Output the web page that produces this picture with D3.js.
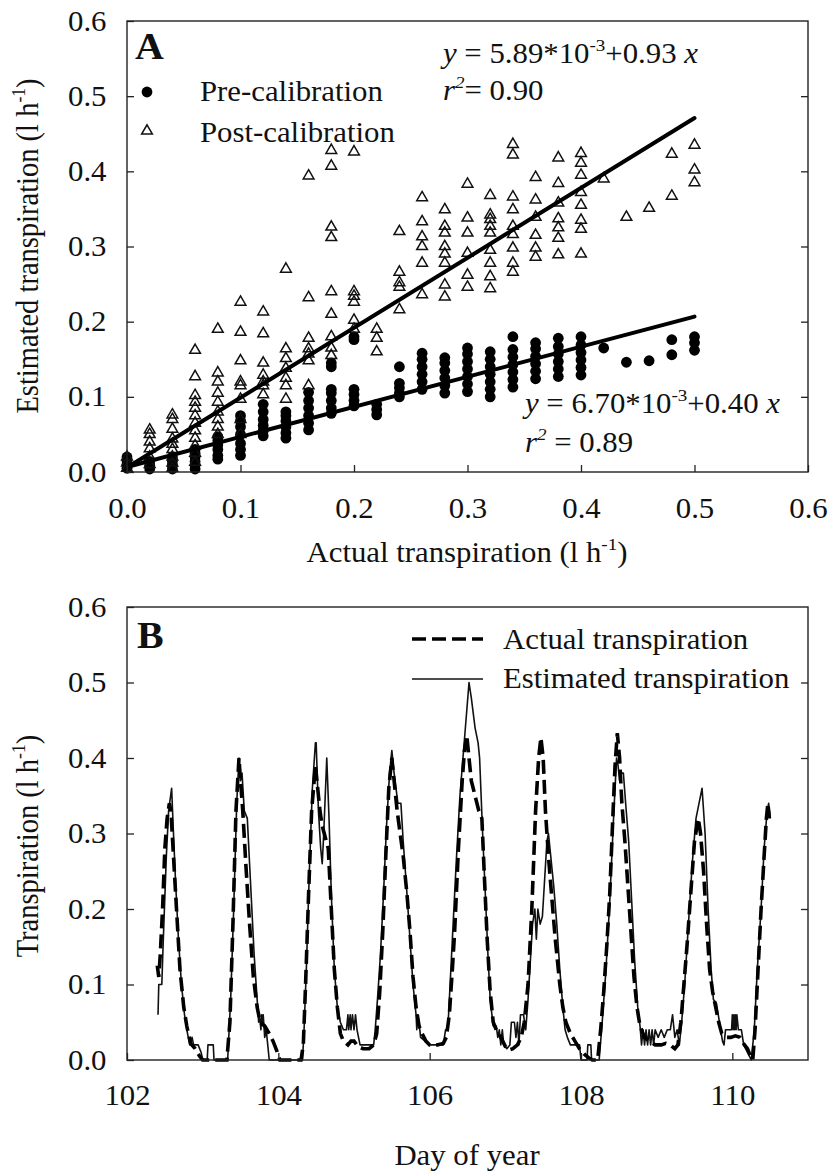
<!DOCTYPE html>
<html>
<head>
<meta charset="utf-8">
<script src="https://cdn.jsdelivr.net/npm/d3@7"></script>
<style>
  body { margin: 0; background: #fff; }
  text { font-family: "Liberation Serif", "Times New Roman", serif; fill: #111; }
</style>
</head>
<body>
<div id="chart"></div>
<script>
// ---- panel A data: x levels (actual transpiration) and estimated values read at each level
const xLevels = [0, 0.02, 0.04, 0.06, 0.08, 0.10, 0.12, 0.14, 0.16, 0.18, 0.20, 0.22, 0.24,
  0.26, 0.28, 0.30, 0.32, 0.34, 0.36, 0.38, 0.40, 0.42, 0.44, 0.46, 0.48, 0.50];

const preY = [
  [0.005, 0.01, 0.015, 0.02],
  [0.004, 0.009, 0.014],
  [0.004, 0.009, 0.014, 0.02],
  [0.004, 0.009, 0.014, 0.02, 0.025, 0.03],
  [0.017, 0.022, 0.03, 0.036, 0.042, 0.047],
  [0.022, 0.03, 0.038, 0.05, 0.06, 0.068, 0.075],
  [0.048, 0.055, 0.062, 0.07, 0.08, 0.09],
  [0.045, 0.052, 0.06, 0.068, 0.075, 0.08],
  [0.056, 0.065, 0.075, 0.085, 0.095, 0.106],
  [0.078, 0.085, 0.095, 0.105, 0.11, 0.14, 0.145],
  [0.088, 0.095, 0.103, 0.11, 0.176, 0.18],
  [0.076, 0.083, 0.09],
  [0.1, 0.105, 0.112, 0.118, 0.14],
  [0.11, 0.12, 0.13, 0.14, 0.15, 0.158],
  [0.105, 0.115, 0.125, 0.135, 0.145, 0.152],
  [0.107, 0.117, 0.127, 0.137, 0.147, 0.157, 0.165],
  [0.1, 0.11, 0.12, 0.13, 0.14, 0.15, 0.16],
  [0.113, 0.123, 0.133, 0.143, 0.153, 0.163, 0.18],
  [0.124, 0.134, 0.144, 0.154, 0.164, 0.172],
  [0.127, 0.137, 0.147, 0.157, 0.167, 0.178],
  [0.129, 0.139, 0.149, 0.159, 0.169, 0.18],
  [0.165],
  [0.146],
  [0.148],
  [0.156, 0.176],
  [0.162, 0.172, 0.18]
];

const postY = [
  [0.005, 0.012, 0.02],
  [0.01, 0.02, 0.031, 0.04, 0.05, 0.056],
  [0.005, 0.012, 0.02, 0.03, 0.037, 0.044, 0.057, 0.07, 0.076],
  [0.013, 0.025, 0.035, 0.045, 0.055, 0.065, 0.075, 0.085, 0.093, 0.102, 0.127, 0.162],
  [0.05, 0.06, 0.07, 0.08, 0.093, 0.105, 0.12, 0.132, 0.19],
  [0.05, 0.07, 0.097, 0.115, 0.12, 0.148, 0.186, 0.226],
  [0.103, 0.115, 0.12, 0.129, 0.145, 0.184, 0.213],
  [0.097, 0.115, 0.125, 0.138, 0.151, 0.164, 0.27],
  [0.115, 0.148, 0.157, 0.164, 0.178, 0.232, 0.394],
  [0.155, 0.165, 0.18, 0.21, 0.24, 0.312, 0.326, 0.407, 0.428],
  [0.19, 0.202, 0.226, 0.234, 0.24, 0.426],
  [0.16, 0.178, 0.19],
  [0.216, 0.246, 0.252, 0.266, 0.32],
  [0.236, 0.278, 0.3, 0.313, 0.333, 0.365],
  [0.233, 0.249, 0.278, 0.29, 0.3, 0.318, 0.327, 0.349],
  [0.246, 0.262, 0.291, 0.318, 0.338, 0.383],
  [0.244, 0.26, 0.278, 0.295, 0.318, 0.327, 0.336, 0.342, 0.368],
  [0.266, 0.278, 0.298, 0.316, 0.327, 0.349, 0.366, 0.422, 0.436],
  [0.286, 0.298, 0.315, 0.339, 0.362, 0.392],
  [0.289, 0.311, 0.325, 0.337, 0.358, 0.384, 0.418],
  [0.29, 0.323, 0.335, 0.355, 0.372, 0.395, 0.411, 0.424],
  [0.39],
  [0.339],
  [0.351],
  [0.367, 0.423],
  [0.385, 0.402, 0.435]
];

// regression fits [intercept, slope]
const preFit = [6.70e-3, 0.40];
const postFit = [5.89e-3, 0.93];

const ticksA = [0, 0.1, 0.2, 0.3, 0.4, 0.5, 0.6];

// ---- panel B data: [day of year, transpiration]
const actualSeries = [
  [102.40,0.125],[102.42,0.11],[102.44,0.14],[102.47,0.20],[102.50,0.28],[102.53,0.32],[102.56,0.34],[102.58,0.33],[102.62,0.26],[102.66,0.19],[102.70,0.12],[102.75,0.07],[102.79,0.045],[102.84,0.022],[102.90,0.015],[102.96,0.005],[103.00,0],[103.32,0],
  [103.36,0.05],[103.40,0.18],[103.44,0.33],[103.48,0.40],[103.50,0.37],[103.53,0.33],[103.57,0.26],[103.62,0.18],[103.67,0.11],[103.72,0.07],[103.76,0.05],[103.82,0.045],[103.88,0.035],[103.93,0.025],[103.98,0.012],[104.02,0],[104.30,0],
  [104.33,0.02],[104.36,0.1],[104.40,0.22],[104.44,0.33],[104.49,0.39],[104.52,0.36],[104.55,0.33],[104.58,0.31],[104.62,0.295],[104.66,0.28],[104.70,0.20],[104.74,0.12],[104.78,0.07],[104.82,0.035],[104.86,0.025],[104.92,0.02],[104.96,0.025],[105.00,0.025],[105.05,0.018],[105.12,0.015],[105.20,0.015],[105.26,0.02],[105.30,0.035],
  [105.34,0.09],[105.38,0.17],[105.42,0.27],[105.46,0.36],[105.50,0.40],[105.53,0.37],[105.57,0.33],[105.61,0.30],[105.65,0.27],[105.70,0.22],[105.74,0.17],[105.78,0.11],[105.82,0.07],[105.86,0.045],[105.90,0.035],[105.95,0.025],[106.00,0.02],[106.10,0.02],[106.18,0.022],[106.22,0.03],
  [106.26,0.06],[106.30,0.12],[106.33,0.17],[106.38,0.28],[106.43,0.37],[106.46,0.41],[106.49,0.43],[106.51,0.41],[106.55,0.37],[106.60,0.35],[106.65,0.33],[106.69,0.32],[106.72,0.25],[106.76,0.16],[106.80,0.09],[106.84,0.05],[106.88,0.04],[106.94,0.03],[107.00,0.018],[107.04,0.013],[107.10,0.015],[107.16,0.02],[107.21,0.03],[107.25,0.05],
  [107.30,0.1],[107.35,0.2],[107.40,0.33],[107.44,0.40],[107.47,0.427],[107.50,0.40],[107.53,0.33],[107.57,0.27],[107.61,0.22],[107.66,0.16],[107.72,0.10],[107.76,0.07],[107.80,0.05],[107.86,0.035],[107.92,0.025],[107.98,0.015],[108.04,0.008],[108.10,0.003],[108.15,0],[108.22,0],
  [108.26,0.04],[108.30,0.09],[108.34,0.15],[108.38,0.22],[108.42,0.32],[108.45,0.39],[108.48,0.433],[108.51,0.40],[108.54,0.34],[108.58,0.29],[108.62,0.23],[108.66,0.17],[108.70,0.11],[108.74,0.07],[108.78,0.045],[108.84,0.03],[108.90,0.025],[108.98,0.02],[109.06,0.02],[109.12,0.022],[109.18,0.02],[109.24,0.015],[109.28,0.02],[109.32,0.05],
  [109.36,0.1],[109.40,0.15],[109.45,0.22],[109.50,0.29],[109.55,0.32],[109.58,0.30],[109.62,0.25],[109.66,0.18],[109.70,0.12],[109.74,0.09],[109.78,0.07],[109.82,0.05],[109.86,0.035],[109.92,0.03],[109.98,0.03],[110.04,0.032],[110.10,0.03],[110.16,0.02],[110.20,0.015],[110.24,0.005],[110.27,0],[110.30,0.04],[110.34,0.12],[110.38,0.20],[110.42,0.27],[110.45,0.32],[110.47,0.34],[110.49,0.32]
];

const estimatedSeries = [
  [102.41,0.06],[102.42,0.10],[102.46,0.10],[102.48,0.16],[102.52,0.27],[102.55,0.33],[102.59,0.36],[102.61,0.31],[102.64,0.24],[102.68,0.16],[102.72,0.10],[102.76,0.06],[102.80,0.035],[102.83,0.02],[102.86,0.03],[102.88,0.02],[102.94,0.02],[102.98,0.01],[103.00,0],[103.06,0],[103.07,0.02],[103.14,0.02],[103.15,0],[103.33,0],
  [103.37,0.08],[103.41,0.2],[103.45,0.34],[103.48,0.40],[103.50,0.37],[103.52,0.38],[103.55,0.33],[103.59,0.32],[103.63,0.24],[103.68,0.14],[103.72,0.08],[103.74,0.05],[103.75,0.06],[103.77,0.04],[103.78,0.06],[103.79,0.05],[103.80,0.06],[103.82,0.03],[103.84,0.04],[103.86,0.02],[103.88,0],[104.32,0],
  [104.34,0.04],[104.37,0.12],[104.41,0.25],[104.45,0.36],[104.49,0.42],[104.50,0.42],[104.53,0.33],[104.56,0.28],[104.58,0.26],[104.60,0.30],[104.64,0.40],[104.67,0.32],[104.70,0.22],[104.74,0.12],[104.78,0.07],[104.82,0.05],[104.86,0.04],[104.90,0.04],[104.92,0.06],[104.93,0.04],[104.95,0.06],[104.96,0.04],[104.98,0.06],[105.00,0.04],[105.02,0.06],[105.04,0.04],[105.06,0.03],[105.08,0.02],[105.26,0.02],[105.28,0.04],[105.31,0.08],
  [105.35,0.14],[105.39,0.22],[105.43,0.31],[105.47,0.38],[105.50,0.41],[105.53,0.38],[105.58,0.34],[105.62,0.34],[105.65,0.29],[105.70,0.22],[105.74,0.16],[105.78,0.10],[105.82,0.06],[105.83,0.04],[105.84,0.06],[105.86,0.05],[105.88,0.03],[105.94,0.025],[106.00,0.02],[106.18,0.02],[106.21,0.04],[106.24,0.04],
  [106.27,0.10],[106.31,0.18],[106.35,0.26],[106.40,0.35],[106.44,0.40],[106.48,0.45],[106.52,0.50],[106.55,0.48],[106.60,0.44],[106.64,0.42],[106.66,0.40],[106.70,0.30],[106.74,0.21],[106.77,0.14],[106.80,0.08],[106.84,0.045],[106.88,0.045],[106.90,0.03],[106.92,0.04],[106.94,0.02],[106.96,0.04],[106.98,0.02],[107.02,0.015],[107.06,0.02],[107.08,0.05],[107.12,0.05],[107.14,0.03],[107.16,0.05],[107.18,0.02],[107.20,0.06],[107.24,0.06],[107.27,0.04],
  [107.30,0.08],[107.33,0.13],[107.36,0.18],[107.39,0.20],[107.41,0.16],[107.43,0.20],[107.46,0.18],[107.49,0.19],[107.52,0.24],[107.55,0.29],[107.57,0.30],[107.60,0.27],[107.64,0.23],[107.68,0.18],[107.72,0.12],[107.76,0.07],[107.79,0.04],[107.82,0.03],[107.86,0.02],[107.98,0.02],[108.00,0],[108.08,0],[108.09,0.02],[108.13,0.02],[108.14,0],[108.24,0],
  [108.28,0.05],[108.33,0.12],[108.38,0.21],[108.43,0.32],[108.47,0.40],[108.49,0.39],[108.51,0.37],[108.53,0.38],[108.56,0.38],[108.59,0.34],[108.63,0.29],[108.67,0.21],[108.71,0.13],[108.75,0.07],[108.78,0.045],[108.80,0.02],[108.82,0.04],[108.84,0.02],[108.86,0.04],[108.88,0.02],[108.90,0.04],[108.92,0.02],[108.94,0.04],[108.96,0.02],[108.98,0.04],[109.02,0.03],[109.06,0.04],[109.10,0.03],[109.14,0.04],[109.18,0.04],[109.21,0.06],[109.24,0.03],[109.27,0.04],[109.30,0.02],[109.33,0.05],
  [109.37,0.1],[109.42,0.18],[109.47,0.26],[109.52,0.32],[109.60,0.36],[109.64,0.30],[109.68,0.20],[109.72,0.12],[109.75,0.08],[109.79,0.075],[109.83,0.05],[109.87,0.025],[109.89,0.02],[109.91,0.04],[109.96,0.04],[109.99,0.04],[110.00,0.06],[110.01,0.04],[110.02,0.06],[110.03,0.04],[110.04,0.06],[110.05,0.04],[110.06,0.06],[110.08,0.04],[110.12,0.04],[110.15,0.02],[110.20,0.01],[110.25,0],[110.29,0.04],[110.33,0.12],[110.38,0.20],[110.42,0.28],[110.46,0.33],[110.48,0.34],[110.50,0.32]
];

const ticksBy = [0, 0.1, 0.2, 0.3, 0.4, 0.5, 0.6];
const ticksBx = [102, 104, 106, 108, 110];

// ---- drawing
const W = 830, H = 1174;
const FS = 28.5;   // base font size
const SX = 1.08;   // the original text is a little wider than plain Times

const svg = d3.select("#chart").append("svg")
  .attr("width", W)
  .attr("height", H)
  .style("background", "#fff");

// text with optional italic / superscript parts
function richText(parent, x, y, size, parts, opts = {}) {
  const t = parent.append("text")
    .attr("font-size", size)
    .attr("text-anchor", opts.anchor || "start")
    .attr("font-weight", opts.bold ? "bold" : null)
    .attr("transform", opts.rotate
      ? `translate(${x},${y}) rotate(-90) scale(1,${SX})`
      : `translate(${x},${y}) scale(${SX},1)`);
  const shift = size * 0.42;
  let raised = false;
  parts.forEach(p => {
    if (typeof p === "string") p = { t: p };
    const s = t.append("tspan").text(p.t);
    if (p.i) s.attr("font-style", "italic");
    if (p.sup) {
      s.attr("font-size", size * 0.62).attr("dy", raised ? 0 : -shift);
      raised = true;
    } else if (raised) {
      s.attr("dy", shift);
      raised = false;
    }
  });
  return t;
}

function frame(g, x, y, xt, yt, fx, fy, padX) {
  const [x0, x1] = x.range();
  const [y0, y1] = y.range();

  const left = g.append("g")
    .attr("transform", `translate(${x0},0)`)
    .call(d3.axisLeft(y).tickValues(yt).tickSizeInner(-7).tickSizeOuter(0).tickPadding(19).tickFormat(fy));
  const bottom = g.append("g")
    .attr("transform", `translate(0,${y0})`)
    .call(d3.axisBottom(x).tickValues(xt).tickSizeInner(-7).tickSizeOuter(0).tickPadding(padX).tickFormat(fx));
  g.append("g")
    .attr("transform", `translate(${x1},0)`)
    .call(d3.axisRight(y).tickValues(yt.slice(1, -1)).tickSizeInner(-7).tickSizeOuter(0).tickFormat(""));

  g.selectAll(".domain").remove();
  g.selectAll(".tick line").attr("stroke", "#222").attr("stroke-width", 1.3);
  [left, bottom].forEach(a => a.selectAll("text")
    .attr("font-family", '"Liberation Serif","Times New Roman",serif')
    .attr("font-size", FS)
    .attr("fill", "#111")
    .attr("transform", `scale(${SX},1)`));

  g.append("rect")
    .attr("x", x0).attr("y", y1)
    .attr("width", x1 - x0).attr("height", y0 - y1)
    .attr("fill", "none")
    .attr("stroke", "#222")
    .attr("stroke-width", 1.4);
}

// ---------- Panel A
const xA = d3.scaleLinear().domain([0, 0.6]).range([127, 808]);
const yA = d3.scaleLinear().domain([0, 0.6]).range([472, 21]);
const gA = svg.append("g");

const prePts = xLevels.flatMap((x, i) => preY[i].map(y => [x, y]));
const postPts = xLevels.flatMap((x, i) => postY[i].map(y => [x, y]));

const tri = d3.symbol().type(d3.symbolTriangle).size(50);

gA.append("g").selectAll("circle")
  .data(prePts)
  .join("circle")
  .attr("cx", d => xA(d[0]))
  .attr("cy", d => yA(d[1]))
  .attr("r", 5.4)
  .attr("fill", "#000");

gA.append("g").selectAll("path")
  .data(postPts)
  .join("path")
  .attr("d", tri)
  .attr("transform", d => `translate(${xA(d[0])},${yA(d[1])})`)
  .attr("fill", "none")
  .attr("stroke", "#111")
  .attr("stroke-width", 1.5);

[postFit, preFit].forEach(f => {
  gA.append("line")
    .attr("x1", xA(0)).attr("y1", yA(f[0]))
    .attr("x2", xA(0.5)).attr("y2", yA(f[0] + f[1] * 0.5))
    .attr("stroke", "#000")
    .attr("stroke-width", 4)
    .attr("stroke-linecap", "round");
});

frame(gA, xA, yA, ticksA, ticksA, d3.format(".1f"), d3.format(".1f"), 26);

richText(gA, 135, 59, 37, ["A"], { bold: true });

// legend A
gA.append("circle").attr("cx", 147).attr("cy", 92).attr("r", 5.4).attr("fill", "#000");
gA.append("path").attr("d", tri).attr("transform", "translate(147,131)")
  .attr("fill", "none").attr("stroke", "#111").attr("stroke-width", 1.5);
richText(gA, 200, 101, FS, ["Pre-calibration"]);
richText(gA, 200, 142, FS, ["Post-calibration"]);

// equations
richText(gA, 443, 63, FS, [{ t: "y", i: true }, " = 5.89*10", { t: "-3", sup: true }, "+0.93 ", { t: "x", i: true }]);
richText(gA, 443, 100, FS, [{ t: "r", i: true }, { t: "2", sup: true, i: true }, "= 0.90"]);
richText(gA, 525, 413, FS, [{ t: "y", i: true }, " = 6.70*10", { t: "-3", sup: true }, "+0.40 ", { t: "x", i: true }]);
richText(gA, 525, 452, FS, [{ t: "r", i: true }, { t: "2", sup: true, i: true }, " = 0.89"]);

// axis titles A
richText(gA, 467, 562, FS, ["Actual transpiration (l h", { t: "-1", sup: true }, ")"], { anchor: "middle" });
richText(gA, 38, 246, FS, ["Estimated transpiration (l h", { t: "-1", sup: true }, ")"], { anchor: "middle", rotate: true });

// ---------- Panel B
const xB = d3.scaleLinear().domain([102, 111]).range([127, 808]);
const yB = d3.scaleLinear().domain([0, 0.6]).range([1060, 607]);
const gB = svg.append("g");

const line = d3.line().x(d => xB(d[0])).y(d => yB(d[1]));

gB.append("path")
  .datum(estimatedSeries)
  .attr("d", line)
  .attr("fill", "none")
  .attr("stroke", "#111")
  .attr("stroke-width", 1.6)
  .attr("stroke-linejoin", "round");

gB.append("path")
  .datum(actualSeries)
  .attr("d", line)
  .attr("fill", "none")
  .attr("stroke", "#000")
  .attr("stroke-width", 3.6)
  .attr("stroke-dasharray", "14,6");

frame(gB, xB, yB, ticksBx, ticksBy, d3.format("d"), d3.format(".1f"), 25);

richText(gB, 137, 648, 37, ["B"], { bold: true });

// legend B
gB.append("line").attr("x1", 412).attr("x2", 483).attr("y1", 639).attr("y2", 639)
  .attr("stroke", "#000").attr("stroke-width", 3.6).attr("stroke-dasharray", "14,6");
gB.append("line").attr("x1", 412).attr("x2", 483).attr("y1", 679).attr("y2", 679)
  .attr("stroke", "#111").attr("stroke-width", 1.6);
richText(gB, 503, 649, FS, ["Actual transpiration"]);
richText(gB, 503, 688, FS, ["Estimated transpiration"]);

// axis titles B
richText(gB, 467, 1165, FS, ["Day of year"], { anchor: "middle" });
richText(gB, 38, 846, FS, ["Transpiration (l h", { t: "-1", sup: true }, ")"], { anchor: "middle", rotate: true });
</script>
</body>
</html>
